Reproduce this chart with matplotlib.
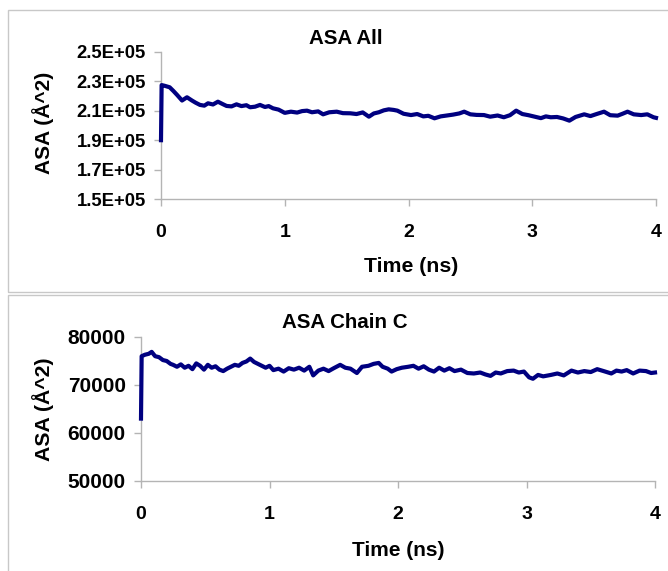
import numpy as np
import matplotlib
matplotlib.use("Agg")
import matplotlib.pyplot as plt
from matplotlib.patches import Rectangle
from matplotlib.ticker import FuncFormatter

# ---------------- data ----------------
top_time = [0.0, 0.005, 0.03, 0.07, 0.10, 0.13, 0.17, 0.21, 0.25, 0.28, 0.315, 0.35,
            0.38, 0.42, 0.46, 0.50, 0.53, 0.57, 0.61, 0.65, 0.69, 0.72, 0.76, 0.80,
            0.84, 0.87, 0.905, 0.95, 1.0, 1.05, 1.10, 1.14, 1.18, 1.22, 1.27, 1.31,
            1.36, 1.42, 1.47, 1.53, 1.58, 1.63, 1.68, 1.72, 1.76, 1.80, 1.84, 1.88,
            1.91, 1.96, 2.02, 2.07, 2.12, 2.16, 2.21, 2.26, 2.31, 2.36, 2.41, 2.45,
            2.50, 2.55, 2.61, 2.66, 2.72, 2.77, 2.82, 2.87, 2.92, 2.97, 3.02, 3.07,
            3.11, 3.15, 3.20, 3.25, 3.30, 3.35, 3.42, 3.47, 3.52, 3.58, 3.63, 3.69,
            3.73, 3.77, 3.82, 3.88, 3.93, 3.98, 4.0]
top_asa_k = [190.0, 227.5, 227.0, 226.0, 223.5, 220.8, 217.0, 219.2, 217.0, 215.5, 214.0, 213.5,
             215.1, 214.3, 216.2, 214.5, 213.3, 213.0, 214.4, 213.2, 213.8, 212.4, 212.8, 214.0,
             212.6, 213.2, 211.7, 210.8, 208.6, 209.4, 208.8, 209.8, 210.1, 209.0, 209.6, 207.6,
             209.0, 209.4, 208.4, 208.3, 207.8, 208.9, 206.0, 208.2, 209.0, 210.3, 211.0, 210.6,
             210.1, 208.0, 207.1, 207.8, 206.2, 206.6, 204.9, 206.2, 206.8, 207.4, 208.2, 209.4,
             207.6, 207.2, 207.1, 206.0, 206.8, 205.6, 207.0, 210.1, 207.8, 207.0, 206.0, 205.0,
             206.2, 205.6, 205.8, 204.8, 203.3, 205.8, 207.6, 206.4, 207.8, 209.4, 207.0, 206.7,
             208.0, 209.4, 207.6, 207.1, 207.6, 205.6, 205.2]

bot_time = [0.0, 0.005, 0.03, 0.06, 0.083, 0.11, 0.14, 0.17, 0.20, 0.23, 0.25, 0.28,
            0.31, 0.34, 0.37, 0.40, 0.43, 0.46, 0.49, 0.52, 0.55, 0.58, 0.61, 0.64,
            0.67, 0.70, 0.73, 0.76, 0.79, 0.82, 0.85, 0.88, 0.91, 0.94, 0.97, 1.0,
            1.03, 1.07, 1.11, 1.15, 1.19, 1.23, 1.27, 1.31, 1.34, 1.38, 1.42, 1.46,
            1.50, 1.55, 1.59, 1.63, 1.68, 1.72, 1.77, 1.81, 1.85, 1.88, 1.92, 1.95,
            1.99, 2.03, 2.08, 2.12, 2.16, 2.20, 2.24, 2.28, 2.32, 2.36, 2.40, 2.44,
            2.49, 2.54, 2.59, 2.64, 2.68, 2.72, 2.76, 2.80, 2.85, 2.90, 2.94, 2.98,
            3.02, 3.05, 3.09, 3.13, 3.19, 3.24, 3.29, 3.35, 3.40, 3.45, 3.50, 3.55,
            3.60, 3.66, 3.70, 3.74, 3.78, 3.83, 3.88, 3.93, 3.97, 4.0]
bot_asa_k = [63.0, 76.0, 76.3, 76.5, 76.9, 76.0, 75.8, 75.2, 75.0, 74.4, 74.2, 73.8,
             74.3, 73.6, 74.0, 73.3, 74.5, 74.0, 73.2, 74.2, 73.6, 73.9, 73.2, 72.9,
             73.4, 73.8, 74.2, 74.0, 74.6, 74.9, 75.5, 74.8, 74.4, 74.0, 73.6, 74.0,
             73.1, 73.4, 72.8, 73.5, 73.2, 73.6, 73.0, 73.8, 72.0, 73.0, 73.4, 72.9,
             73.5, 74.2, 73.6, 73.4, 72.5, 73.8, 74.0, 74.4, 74.6, 73.8, 73.4, 72.8,
             73.3, 73.6, 73.8, 74.0, 73.4, 73.9, 73.2, 72.8, 73.6, 73.0, 73.5, 72.9,
             73.2, 72.5, 72.4, 72.6, 72.2, 71.9, 72.6, 72.4, 72.9, 73.0, 72.6, 72.8,
             71.6, 71.3, 72.1, 71.8, 72.1, 72.4, 72.0, 73.0, 72.6, 72.9, 72.7, 73.3,
             72.9, 72.4, 73.0, 72.8, 73.1, 72.4, 73.0, 72.9, 72.5, 72.6]

x_ticks = [0, 1, 2, 3, 4]
top_yticks = [150000, 170000, 190000, 210000, 230000, 250000]
bot_yticks = [50000, 60000, 70000, 80000]

top_title = "ASA All"
bot_title = "ASA Chain C"
y_label = "ASA (Å^2)"
x_label = "Time (ns)"

# ---------------- style ----------------
plt.rcParams['font.family'] = ['Liberation Sans', 'DejaVu Sans']
plt.rcParams['font.weight'] = 'bold'
LINE = '#000080'
GRID = '#b4b4b4'
W, H = 668, 571

fig = plt.figure(figsize=(W / 100, H / 100), dpi=100)
fig.patch.set_facecolor('white')

def fx(px):
    return px / W

def fy(py):
    return 1 - py / H

# panel borders
fig.add_artist(Rectangle((fx(8), fy(292)), 1.2, fy(10) - fy(292),
                         transform=fig.transFigure, fill=False,
                         edgecolor='#c8c8c8', linewidth=1.0))
fig.add_artist(Rectangle((fx(8), fy(620)), 1.2, fy(295) - fy(620),
                         transform=fig.transFigure, fill=False,
                         edgecolor='#c8c8c8', linewidth=1.0))

def style_axes(ax, ysize):
    for s in ['top', 'right']:
        ax.spines[s].set_visible(False)
    for s in ['left', 'bottom']:
        ax.spines[s].set_color(GRID)
        ax.spines[s].set_linewidth(1.0)
    ax.tick_params(axis='both', direction='out', color=GRID, length=5, width=1.0)
    ax.tick_params(axis='x', labelsize=14, pad=13)
    ax.tick_params(axis='y', labelsize=ysize, pad=6)
    for lab in ax.get_xticklabels() + ax.get_yticklabels():
        lab.set_fontweight('bold')

# top axes
ax1 = fig.add_axes([fx(161), fy(199), fx(656) - fx(161), fy(52) - fy(199)])
ax1.plot(top_time, np.array(top_asa_k) * 1000, color=LINE, linewidth=3.0,
         solid_joinstyle='round', clip_on=False, zorder=4)
ax1.set_xlim(0, 4)
ax1.set_ylim(150000, 250000)
ax1.set_xticks(x_ticks)
ax1.set_yticks(top_yticks)
ax1.yaxis.set_major_formatter(FuncFormatter(
    lambda v, p: "%.1fE+%02d" % (v / 10 ** int(np.floor(np.log10(v))), int(np.floor(np.log10(v))))))
style_axes(ax1, 13.3)

# bottom axes
ax2 = fig.add_axes([fx(141), fy(481), fx(655) - fx(141), fy(337) - fy(481)])
ax2.plot(bot_time, np.array(bot_asa_k) * 1000, color=LINE, linewidth=3.0,
         solid_joinstyle='round', clip_on=False, zorder=4)
ax2.set_xlim(0, 4)
ax2.set_ylim(50000, 80000)
ax2.set_xticks(x_ticks)
ax2.set_yticks(bot_yticks)
style_axes(ax2, 15)

# titles and labels (figure text for placement)
fig.text(fx(346), fy(39), top_title, ha='center', va='center', fontsize=14.8, fontweight='bold')
fig.text(fx(345), fy(323), bot_title, ha='center', va='center', fontsize=14.8, fontweight='bold')
fig.text(fx(43), fy(123), y_label, ha='center', va='center', rotation=90, fontsize=15, fontweight='bold')
fig.text(fx(43), fy(409), y_label, ha='center', va='center', rotation=90, fontsize=15.3, fontweight='bold')
fig.text(fx(411), fy(267), x_label, ha='center', va='center', fontsize=15.3, fontweight='bold')
fig.text(fx(398), fy(550), x_label, ha='center', va='center', fontsize=15, fontweight='bold')

fig.savefig("out.png", dpi=100, facecolor='white')
